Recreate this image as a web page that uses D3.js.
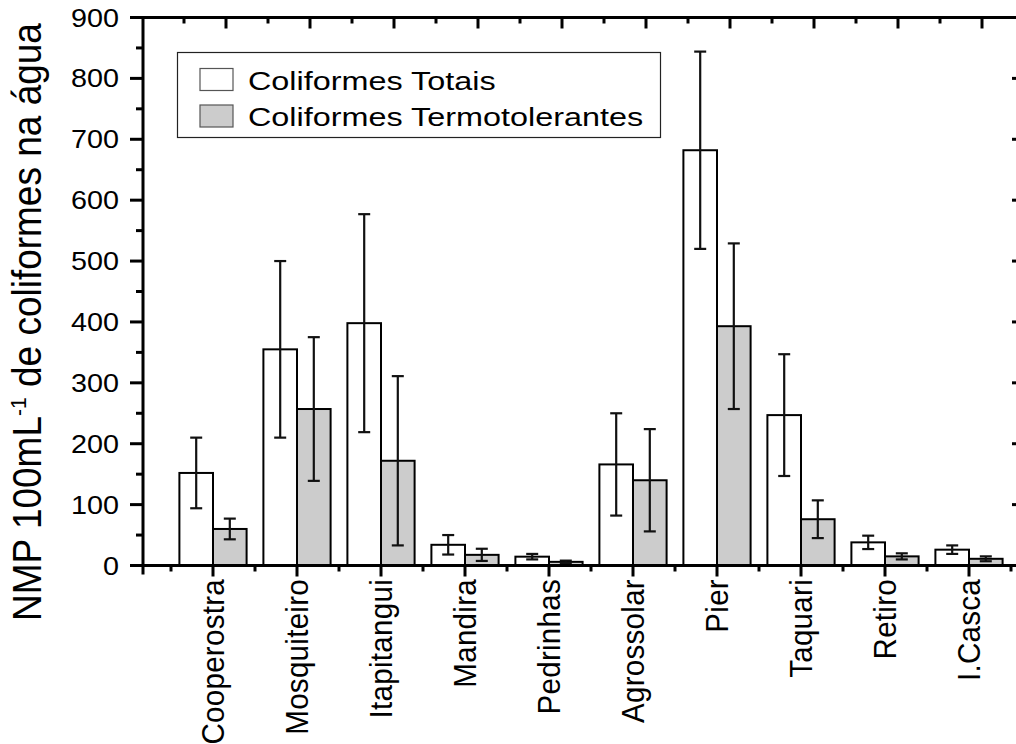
<!DOCTYPE html>
<html>
<head>
<meta charset="utf-8">
<script src="https://cdn.jsdelivr.net/npm/d3@7"></script>
<style>
  body { margin: 0; background: #fff; }
  svg { display: block; font-family: 'Liberation Sans', Arial, sans-serif; }
</style>
</head>
<body>
<svg id="chart" width="1016" height="744"></svg>
<script>
const categories = ['Cooperostra', 'Mosquiteiro', 'Itapitangui', 'Mandira', 'Pedrinhas',
  'Agrossolar', 'Pier', 'Taquari', 'Retiro', 'I.Casca']
const totais = [152, 355, 398, 34, 14.5, 166, 682, 247, 38, 26]
const totaisErr = [58, 145, 179, 16, 4.5, 84, 162, 100, 11, 7]
const termo = [60, 257, 172, 17.5, 6, 140, 393, 76, 15, 11]
const termoErr = [17, 118, 139, 10, 2, 84, 136, 31, 5, 4]
const yTicks = [0, 100, 200, 300, 400, 500, 600, 700, 800, 900]
const seriesNames = ['Coliformes Totais', 'Coliformes Termotolerantes']
const seriesFill = ['#ffffff', '#cccccc']

const svg = d3.select('#chart')

// plot frame
const frame = {left: 143, right: 1025, top: 17.5, bottom: 565.5}

const y = d3.scaleLinear().domain([0, 900]).range([frame.bottom, frame.top])
// category i sits at position i + 1
const x = d3.scaleLinear().domain([0.5, 10.5]).range([171, 1011])
const barW = x(1.4) - x(1)

const axisW = 3

// bars
const series = [
  {name: seriesNames[0], vals: totais, errs: totaisErr, off: -1},
  {name: seriesNames[1], vals: termo, errs: termoErr, off: 0},
]

series.forEach((s, si) => {
  const g = svg.append('g').attr('class', 'series')
  const data = categories.map((c, i) => ({c, i, v: s.vals[i], e: s.errs[i]}))

  g.selectAll('rect')
    .data(data)
    .enter()
    .append('rect')
    .attr('x', (d) => x(d.i + 1) + s.off * barW)
    .attr('y', (d) => y(d.v))
    .attr('width', barW)
    .attr('height', (d) => y(0) - y(d.v))
    .attr('fill', seriesFill[si])
    .attr('stroke', '#000')
    .attr('stroke-width', 2)

  const cx = (d) => x(d.i + 1) + s.off * barW + barW / 2
  const eb = g.selectAll('.err')
    .data(data)
    .enter()
    .append('g')
    .attr('class', 'err')
    .attr('stroke', '#111')
    .attr('stroke-width', 2.2)
  eb.append('line')
    .attr('x1', cx).attr('x2', cx)
    .attr('y1', (d) => y(d.v + d.e)).attr('y2', (d) => y(d.v - d.e))
  ;[1, -1].forEach((sign) => {
    eb.append('line')
      .attr('x1', (d) => cx(d) - 6).attr('x2', (d) => cx(d) + 6)
      .attr('y1', (d) => y(d.v + sign * d.e)).attr('y2', (d) => y(d.v + sign * d.e))
  })
})

// axes
const axes = svg.append('g').attr('stroke', '#000').attr('stroke-width', axisW)

const majorX = d3.range(1, 11)
const minorX = d3.range(0.5, 11, 1)
const topShift = 13

// bottom ticks, outward
axes.selectAll('.bt-major').data(majorX).enter().append('line')
  .attr('x1', (d) => x(d)).attr('x2', (d) => x(d))
  .attr('y1', frame.bottom).attr('y2', frame.bottom + 11)
axes.selectAll('.bt-minor').data(minorX).enter().append('line')
  .attr('x1', (d) => x(d)).attr('x2', (d) => x(d))
  .attr('y1', frame.bottom).attr('y2', frame.bottom + 6)

// top ticks, inward
axes.selectAll('.tt-major').data(majorX).enter().append('line')
  .attr('x1', (d) => x(d) + topShift).attr('x2', (d) => x(d) + topShift)
  .attr('y1', frame.top).attr('y2', frame.top + 11)
axes.selectAll('.tt-minor').data(minorX).enter().append('line')
  .attr('x1', (d) => x(d) + topShift).attr('x2', (d) => x(d) + topShift)
  .attr('y1', frame.top).attr('y2', frame.top + 6)

// left ticks, outward; right ticks, inward
const minorY = d3.range(50, 900, 100)
axes.selectAll('.lt-major').data(yTicks).enter().append('line')
  .attr('x1', frame.left - 13).attr('x2', frame.left)
  .attr('y1', (d) => y(d)).attr('y2', (d) => y(d))
axes.selectAll('.lt-minor').data(minorY).enter().append('line')
  .attr('x1', frame.left - 7).attr('x2', frame.left)
  .attr('y1', (d) => y(d)).attr('y2', (d) => y(d))
axes.selectAll('.rt-major').data(yTicks).enter().append('line')
  .attr('x1', frame.right - 13).attr('x2', frame.right)
  .attr('y1', (d) => y(d)).attr('y2', (d) => y(d))
axes.selectAll('.rt-minor').data(minorY).enter().append('line')
  .attr('x1', frame.right - 7).attr('x2', frame.right)
  .attr('y1', (d) => y(d)).attr('y2', (d) => y(d))

// frame lines
axes.append('line').attr('x1', frame.left - 13).attr('x2', frame.right)
  .attr('y1', frame.bottom).attr('y2', frame.bottom)
axes.append('line').attr('x1', frame.left).attr('x2', frame.right)
  .attr('y1', frame.top).attr('y2', frame.top)
axes.append('line').attr('x1', frame.left).attr('x2', frame.left)
  .attr('y1', frame.top - 1.5).attr('y2', frame.bottom + 9)
axes.append('line').attr('x1', frame.right).attr('x2', frame.right)
  .attr('y1', frame.top - 1.5).attr('y2', frame.bottom)

// y tick labels
svg.append('g')
  .selectAll('text')
  .data(yTicks)
  .enter()
  .append('text')
  .attr('transform', (d) => `translate(119, ${y(d)}) scale(1.15, 1)`)
  .attr('text-anchor', 'end')
  .attr('dy', '0.36em')
  .attr('font-size', 25)
  .attr('fill', '#000')
  .text((d) => d)

// category labels
svg.append('g')
  .selectAll('text')
  .data(categories)
  .enter()
  .append('text')
  .attr('transform', (d, i) => `translate(${x(i + 1)}, 579) rotate(-90) scale(1, 1.08)`)
  .attr('text-anchor', 'end')
  .attr('dy', '0.36em')
  .attr('font-size', 29.5)
  .attr('letter-spacing', 0.3)
  .attr('fill', '#000')
  .text((d) => d)

// y title
const title = svg.append('text')
  .attr('transform', 'translate(41, 322) rotate(-90) scale(1, 1.08)')
  .attr('text-anchor', 'middle')
  .attr('font-size', 37)
  .attr('fill', '#000')
title.append('tspan').text('NMP 100mL')
title.append('tspan').attr('font-size', 21).attr('dy', -14).text('-1')
title.append('tspan').attr('dy', 14).text(' de coliformes na água')

// legend
const legend = svg.append('g').attr('class', 'legend')
legend.append('rect')
  .attr('x', 177.5).attr('y', 52.5)
  .attr('width', 483).attr('height', 85)
  .attr('fill', '#fff')
  .attr('stroke', '#222')
  .attr('stroke-width', 1.2)

const items = legend.selectAll('.item')
  .data(seriesNames)
  .enter()
  .append('g')
  .attr('transform', (d, i) => `translate(200, ${68.5 + i * 36.5})`)
items.append('rect')
  .attr('width', 33).attr('height', 22)
  .attr('fill', (d, i) => seriesFill[i])
  .attr('stroke', '#555')
  .attr('stroke-width', 1.2)
items.append('text')
  .attr('transform', 'translate(48, 21) scale(1.27, 1)')
  .attr('font-size', 25.5)
  .attr('fill', '#000')
  .text((d) => d)
</script>
</body>
</html>
